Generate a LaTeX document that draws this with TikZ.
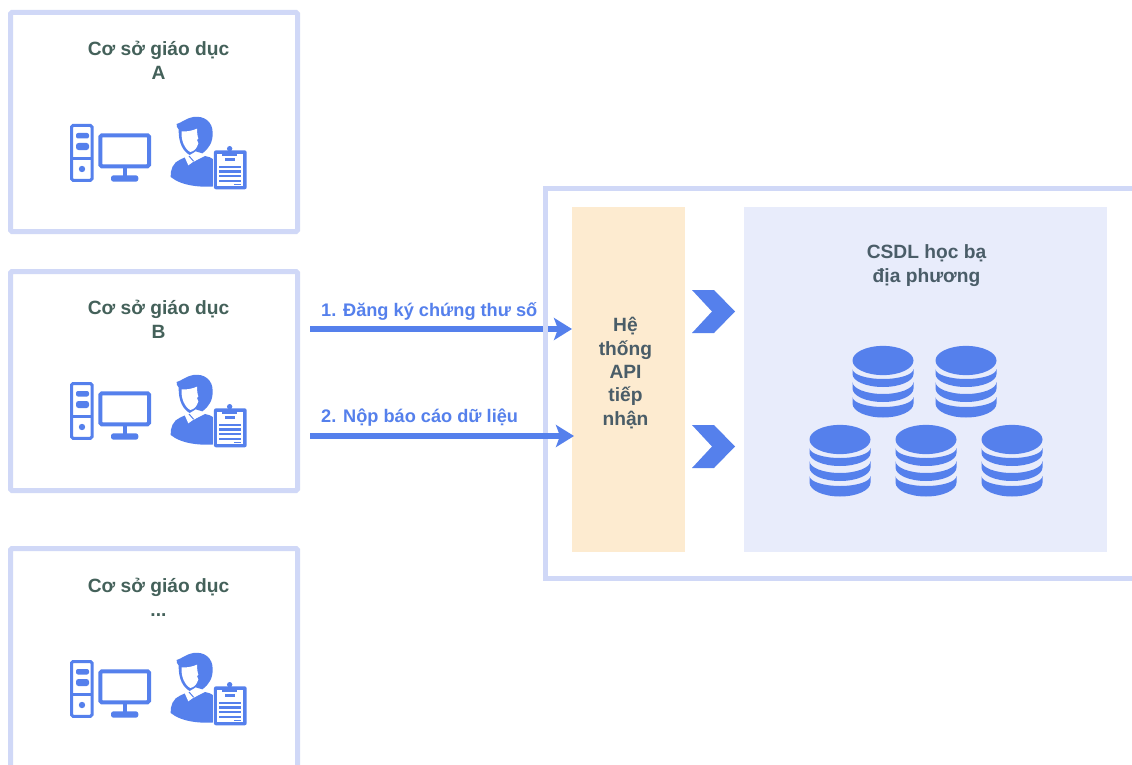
\documentclass[tikz,border=0pt]{standalone}
\usepackage{fontspec}
\setmainfont{Liberation Sans}
\usetikzlibrary{arrows.meta}

\definecolor{frameblue}{HTML}{D0D8F7}
\definecolor{iconblue}{HTML}{5580EC}
\definecolor{apifill}{HTML}{FDEBD0}
\definecolor{dbfill}{HTML}{E8ECFB}
\definecolor{titlegreen}{HTML}{44615A}
\definecolor{apitext}{HTML}{4A5D68}

\tikzset{
  unitbox/.style={draw=frameblue, line width=5pt, fill=white, rounded corners=1.5pt, anchor=north west, minimum width=287pt},
  unittitle/.style={text=titlegreen, font=\bfseries\fontsize{19.2}{24}\selectfont, align=center},
  flowlabel/.style={text=iconblue, font=\bfseries\fontsize{18.2}{20}\selectfont, anchor=base west, inner sep=0pt},
  flowline/.style={draw=iconblue, line width=6pt, -{Stealth[length=18pt,width=22pt,inset=4pt]}},
  chevron/.style={fill=iconblue},
}

% computer + person icon, #1 = shift; coordinates are pixels
\newcommand{\staffkit}[1]{
  \begin{scope}[shift={#1}]
    % tower
    \draw[iconblue, line width=3pt, fill=white, rounded corners=1.5pt] (21.5,25.5) rectangle (42,80.3);
    \draw[iconblue, line width=2.5pt] (21,58.5) -- (43,58.5);
    \fill[iconblue, rounded corners=2pt] (26,33) rectangle (39,38.5);
    \fill[iconblue, rounded corners=2.5pt] (26,43) rectangle (39,50);
    \fill[iconblue] (32,69) circle (3.2pt);
    % monitor
    \draw[iconblue, line width=4pt, fill=white, rounded corners=1.5pt] (50.3,35.3) rectangle (99,66.3);
    \fill[iconblue] (72.7,67) rectangle (77.3,76);
    \fill[iconblue, rounded corners=2.5pt] (61,75.3) rectangle (88.3,81.7);
    % person and clipboard, drawn on the 3x crop grid
    \begin{scope}[shift={(115,12)}, scale=0.3333]
      % body
      \fill[iconblue] (17,195) .. controls (15,175) and (25,150) .. (45,143) -- (62,135) -- (85,150) -- (120,132)
        .. controls (140,135) and (155,145) .. (160,165) -- (160,222) .. controls (110,228) and (50,222) .. (17,195) -- cycle;
      % neck and collar
      \fill[white] (54,124) -- (70,160) -- (88,147) -- (118,130) -- (108,118) -- (75,130) -- cycle;
      \draw[iconblue, line width=1pt] (72,132) -- (86,148);
      % hair and outline of the head
      \fill[iconblue] (35,36) .. controls (50,32) and (60,20) .. (85,15) .. controls (118,10) and (143,30) .. (143,62)
        .. controls (144,90) and (132,110) .. (112,124) -- (92,118) -- (74,129)
        .. controls (55,118) and (40,95) .. (41,52) .. controls (37,48) and (33,42) .. (35,36) -- cycle;
      % face
      \fill[white] (50,58) .. controls (65,60) and (85,55) .. (96,50) .. controls (96,60) and (97,72) .. (100,80)
        -- (96,84) -- (100,94) .. controls (96,108) and (88,118) .. (76,120)
        .. controls (60,112) and (47,85) .. (50,58) -- cycle;
      % clipboard
      \fill[white] (143,111) rectangle (249,236);
      \fill[iconblue, rounded corners=2pt] (147,115) rectangle (245,232);
      \fill[iconblue] (194,110) circle (8);
      \fill[white] (157,126) rectangle (235,222);
      \fill[iconblue] (172,116) rectangle (217,133);
      \fill[iconblue] (180,139) rectangle (210,146);
      \foreach \rowy in {161,175,189,203} { \fill[iconblue] (163,\rowy) rectangle (227,\rowy+7); }
      \fill[iconblue] (207,215) rectangle (227,220);
    \end{scope}
  \end{scope}
}

% one database stack, #1 = centre of the top disc
\newcommand{\dbstack}[1]{
  \begin{scope}[shift={#1}]
    \fill[iconblue] (0,0) ellipse [x radius=30.5, y radius=14.6];
    \foreach \topy/\upper/\boty/\lower in {8.5/10/13.5/13, 21.5/12/28/13.5, 36.5/10/43/14} {
      \fill[iconblue] (-30.5,\topy) arc[start angle=180, end angle=0, x radius=30.5, y radius=\upper]
        -- (30.5,\boty) arc[start angle=0, end angle=180, x radius=30.5, y radius=\lower] -- cycle;
    }
  \end{scope}
}

\begin{document}
\begin{tikzpicture}[x=1pt, y=-1pt]
  \useasboundingbox (0,0) rectangle (1132,765);
  \clip (0,0) rectangle (1132,765);
  \fill[white] (0,0) rectangle (1132,765);

  % school boxes on the left
  \node[unitbox, minimum height=219pt] (unitA) at (8,10) {};
  \node[unitbox, minimum height=219pt] (unitB) at (8,269) {};
  \node[unitbox, minimum height=260pt] (unitC) at (8,546) {};
  \node[unittitle] (titleA) at (158.5,60) {Cơ sở giáo dục\\A};
  \node[unittitle] (titleB) at (158.5,319) {Cơ sở giáo dục\\B};
  \node[unittitle] (titleC) at (158.5,597) {Cơ sở giáo dục\\...};
  \staffkit{(50,100)}
  \staffkit{(50,358)}
  \staffkit{(50,636)}

  \coordinate (flowA) at (310,329);
  \coordinate (flowB) at (310,436);
  \node[draw=none, minimum width=113pt, minimum height=345pt, anchor=north west, fill=apifill] (api) at (572,207) {};
  \node[align=center, text=apitext, font=\bfseries\fontsize{19.2}{23.3}\selectfont] (apilabel) at (625.5,373) {Hệ\\thống\\API\\tiếp\\nhận};

  % first arrow passes under the frame, second one over it
  \draw[flowline] (flowA) -- (flowA -| api.west);
  \draw[frameblue, line width=5pt] (1150,188.5) -- (545.5,188.5) -- (545.5,578.5) -- (1150,578.5);
  \draw[flowline] (flowB) -- ([xshift=2pt]flowB -| api.west);
  \node[flowlabel] (labelA) at (321,316) {1. Đăng ký chứng thư số};
  \node[flowlabel] (labelB) at (321,422) {2. Nộp báo cáo dữ liệu};

  % local database panel
  \node[fill=dbfill, minimum width=363pt, minimum height=345pt, anchor=north west] (csdl) at (744,207) {};
  \node[unittitle, text=apitext] (csdltitle) at (926.5,266) {CSDL học bạ\\địa phương};
  \dbstack{(883,360.5)}
  \dbstack{(966,360.5)}
  \dbstack{(840,439.5)}
  \dbstack{(926,439.5)}
  \dbstack{(1012,439.5)}

  \fill[chevron] (692,290) -- (714,290) -- (735,311.5) -- (714,333) -- (692,333) -- (712,311.5) -- cycle;
  \fill[chevron] (692,425) -- (714,425) -- (735,446.5) -- (714,468) -- (692,468) -- (712,446.5) -- cycle;
\end{tikzpicture}
\end{document}
